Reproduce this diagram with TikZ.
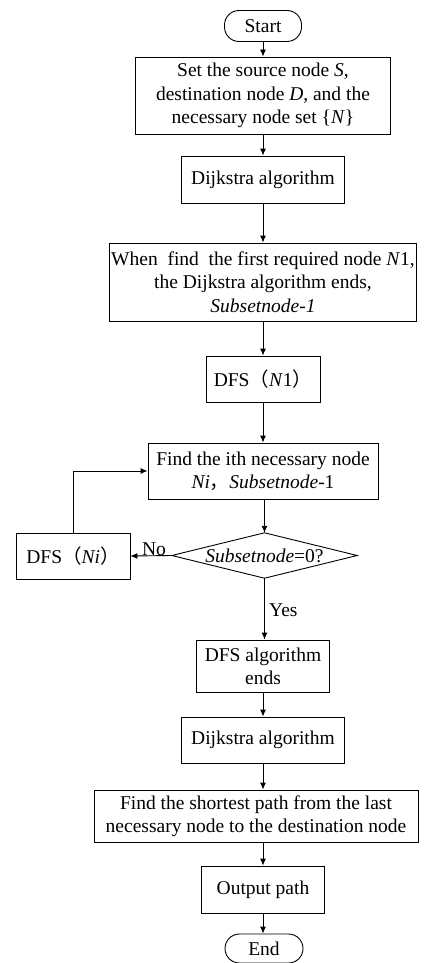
\documentclass[tikz,border=0pt]{standalone}
\usepackage{fontspec}
\setmainfont{Liberation Serif}
\newfontfamily\cjk{Noto Sans CJK SC}
\usetikzlibrary{arrows.meta}
\newcommand{\lp}{{\cjk （}}
\newcommand{\rp}{{\cjk ）}}
\newcommand{\cm}{{\cjk ，}}
\begin{document}
\begin{tikzpicture}[x=1pt,y=-1pt,
  txt/.style={inner sep=0pt, align=center, font=\fontsize{19.5}{23.3}\selectfont},
  box/.style={txt, draw, line width=0.9pt},
  term/.style={box, rounded corners=14.5pt},
  arr/.style={-{Latex[length=7pt,width=6pt]}, line width=0.9pt}]
\useasboundingbox (0,0) rectangle (425,963);
\node[term, minimum width=77, minimum height=31] (start) at (263,26) {Start};
\node[box, minimum width=255, minimum height=77] (b1) at (263,95.5) {Set the source node \textit{S},\\destination node \textit{D}, and the\\necessary node set \{\textit{N}\}};
\node[box, minimum width=163, minimum height=47] (b2) at (263,179.5) {Dijkstra algorithm};
\node[box, minimum width=307, minimum height=78] (b3) at (263,282) {When\ \ find\ \ the first required node \textit{N}1,\\the Dijkstra algorithm ends,\\\textit{Subsetnode-1}};
\node[box, minimum width=114, minimum height=46] (b4) at (263,379) {DFS\lp\textit{N}1\rp};
\node[box, minimum width=230, minimum height=56] (b5) at (263,471) {Find the ith necessary node\\\textit{Ni}\cm\textit{Subsetnode}-1};
\node[txt, minimum width=185, minimum height=45] (d) at (264.5,555.5) {\textit{Subsetnode}=0?};
\draw[line width=0.9pt] (d.north) -- (d.east) -- (d.south) -- (d.west) -- cycle;
\node[box, minimum width=114, minimum height=46] (dn) at (73,556) {DFS\lp\textit{Ni}\rp};
\node[box, minimum width=133, minimum height=52] (b6) at (263,666) {DFS algorithm\\ends};
\node[box, minimum width=163, minimum height=46] (b7) at (263,740) {Dijkstra algorithm};
\node[box, minimum width=324, minimum height=52] (b8) at (256,816) {Find the shortest path from the last\\necessary node to the destination node};
\node[box, minimum width=123, minimum height=47] (b9) at (263,889.5) {Output path};
\node[term, minimum width=78, minimum height=29] (end) at (264,948.5) {End};
\node[txt, anchor=south] (no) at (154,556) {No};
\node[txt, anchor=west] (yes) at (269,610) {Yes};
\draw[arr] (start) -- (b1);
\draw[arr] (b1) -- (b2);
\draw[arr] (b2) -- (b3);
\draw[arr] (b3) -- (b4);
\draw[arr] (b4) -- (b5);
\draw[arr] (b5.south -| d.north) -- (d.north);
\draw[arr] (d.west) -- (dn.east);
\draw[arr] (dn.north) |- (b5.west);
\draw[arr] (d.south) -- (d.south |- b6.north);
\draw[arr] (b6) -- (b7);
\draw[arr] (b7) -- (b7 |- b8.north);
\draw[arr] (b8.south -| b9.north) -- (b9);
\draw[arr] (b9.south) -- (b9.south |- end.north);
\end{tikzpicture}
\end{document}
